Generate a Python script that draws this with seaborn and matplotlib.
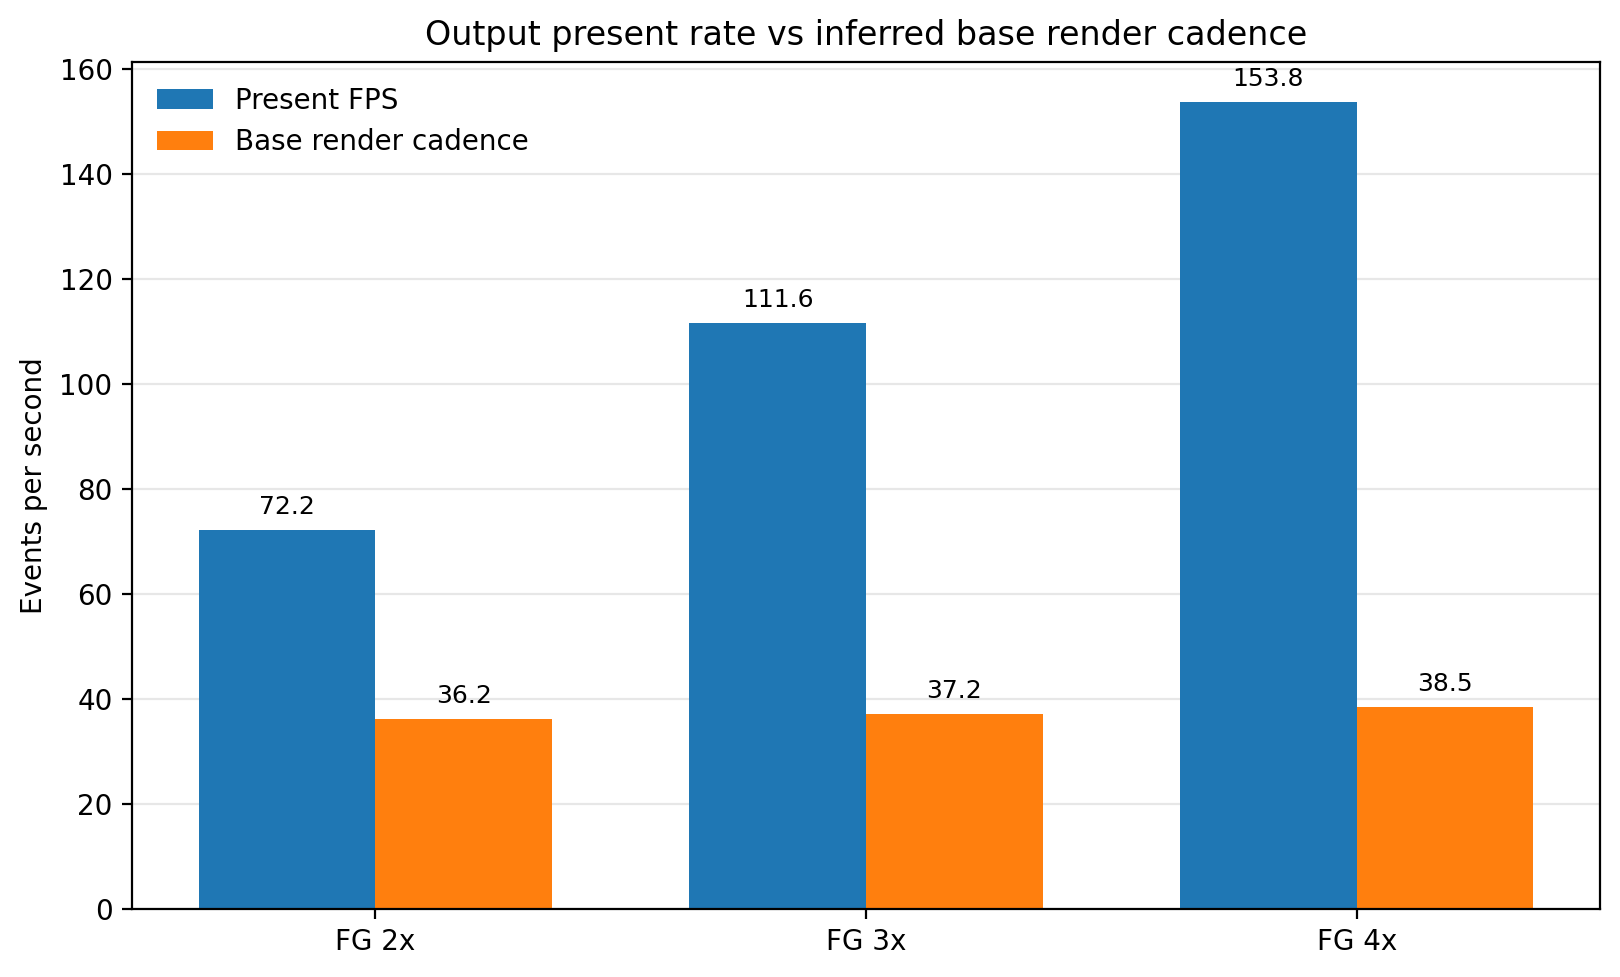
import matplotlib
matplotlib.use('Agg')
import matplotlib.pyplot as plt
import seaborn as sns
import pandas as pd

# Data
modes = ['FG 2x', 'FG 3x', 'FG 4x']
present_fps = [72.2, 111.6, 153.8]
base_cadence = [36.2, 37.2, 38.5]
series_names = ['Present FPS', 'Base render cadence']

df = pd.DataFrame({
    'mode': modes * 2,
    'value': present_fps + base_cadence,
    'series': [series_names[0]] * len(modes) + [series_names[1]] * len(modes),
})

fig, ax = plt.subplots(figsize=(8.1, 4.885), dpi=200)

sns.barplot(data=df, x='mode', y='value', hue='series', palette=['#1f77b4', '#ff7f0e'],
            saturation=1, width=0.72, gap=0, errorbar=None, ax=ax)

# value labels above bars
for container in ax.containers:
    ax.bar_label(container, fmt='%.1f', padding=4, fontsize=9)

ax.set_xlim(-0.496, 2.496)
ax.set_ylim(0, max(present_fps) * 1.05)
ax.set_title('Output present rate vs inferred base render cadence', fontsize=12)
ax.set_xlabel('')
ax.set_ylabel('Events per second')
ax.grid(axis='y', alpha=0.3)
ax.set_axisbelow(True)
ax.legend(frameon=False, loc='upper left')

fig.subplots_adjust(left=0.0815, right=0.9877, top=0.937, bottom=0.0696)
plt.savefig('out.png', dpi=200)
plt.close()
